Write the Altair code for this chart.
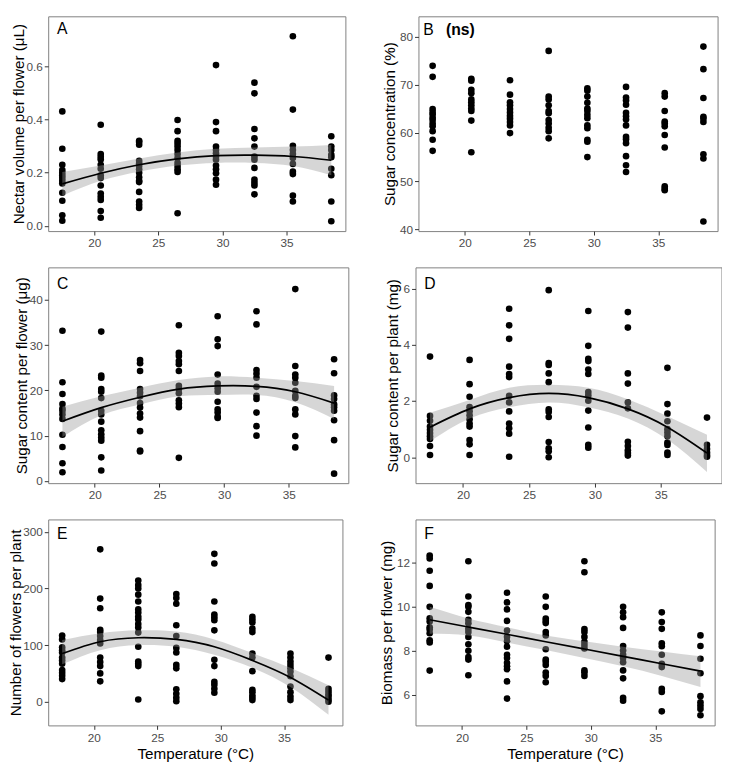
import altair as alt
import pandas as pd

temps = [17.5, 20.5, 23.5, 26.5, 29.5, 32.5, 35.5, 38.5]

# ---- A: nectar volume per flower (uL)
nectar_volume = [
    [0.43, 0.29, 0.23, 0.21, 0.20, 0.19, 0.18, 0.17, 0.16, 0.125, 0.095, 0.04, 0.02],
    [0.38, 0.27, 0.26, 0.25, 0.23, 0.215, 0.19, 0.18, 0.152, 0.122, 0.11, 0.098, 0.056, 0.031],
    [0.32, 0.315, 0.305, 0.245, 0.235, 0.225, 0.213, 0.2, 0.183, 0.17, 0.165, 0.128, 0.092, 0.08, 0.068],
    [0.398, 0.356, 0.32, 0.31, 0.298, 0.285, 0.27, 0.255, 0.237, 0.225, 0.213, 0.203, 0.048],
    [0.604, 0.39, 0.356, 0.298, 0.285, 0.273, 0.261, 0.249, 0.227, 0.213, 0.198, 0.174, 0.155],
    [0.538, 0.498, 0.364, 0.329, 0.298, 0.261, 0.249, 0.218, 0.174, 0.162, 0.152, 0.119],
    [0.712, 0.437, 0.301, 0.285, 0.27, 0.255, 0.233, 0.204, 0.195, 0.114, 0.092],
    [0.337, 0.298, 0.285, 0.267, 0.258, 0.215, 0.191, 0.092, 0.018],
]
nectar_fit = [0.158, 0.198, 0.23, 0.252, 0.264, 0.266, 0.261, 0.247]
nectar_lo = [0.114, 0.17, 0.204, 0.227, 0.237, 0.237, 0.225, 0.191]
nectar_hi = [0.203, 0.227, 0.253, 0.276, 0.29, 0.295, 0.298, 0.304]

# ---- B: sugar concentration (%)
sugar_conc = [
    [74.0, 71.7, 65.0, 64.4, 63.9, 63.2, 62.7, 62.0, 61.4, 60.4, 58.6, 56.3],
    [71.3, 70.9, 69.0, 68.3, 67.0, 66.4, 65.8, 65.1, 64.6, 62.6, 56.0],
    [71.0, 68.0, 66.4, 65.8, 65.0, 64.3, 63.6, 63.0, 62.3, 61.6, 60.0],
    [77.1, 67.6, 67.0, 65.8, 64.6, 64.1, 62.7, 62.0, 61.1, 60.4, 58.9],
    [69.3, 68.8, 67.6, 66.3, 65.1, 64.6, 63.8, 63.1, 61.6, 61.0, 58.6, 58.2, 55.0],
    [69.6, 67.4, 66.8, 65.9, 64.2, 63.5, 62.8, 61.6, 59.2, 58.7, 57.9, 55.2, 53.3, 51.9],
    [68.3, 67.6, 64.6, 62.4, 62.0, 61.4, 59.6, 57.0, 48.9, 48.4, 48.1],
    [78.0, 73.3, 67.3, 63.4, 63.0, 62.3, 55.6, 54.7, 41.6],
]

# ---- C: sugar content per flower (ug)
sugar_flower = [
    [33.2, 21.8, 19.2, 17.0, 16.0, 15.5, 14.7, 13.7, 10.2, 7.5, 3.9, 1.9],
    [33.0, 23.3, 22.8, 20.3, 19.7, 18.3, 15.5, 14.7, 13.1, 11.2, 10.3, 9.6, 8.9, 5.2, 2.3],
    [26.7, 26.0, 24.3, 20.3, 19.5, 18.7, 17.2, 16.2, 14.9, 14.0, 11.0, 6.7, 6.5],
    [34.4, 28.3, 27.6, 26.5, 25.8, 24.3, 21.0, 20.3, 19.4, 17.8, 17.1, 16.3, 5.1],
    [36.4, 31.3, 29.8, 23.5, 21.5, 20.5, 19.7, 17.5, 15.8, 15.1, 14.2, 13.9],
    [37.5, 34.6, 24.5, 23.7, 22.8, 20.8, 18.8, 18.1, 15.1, 12.1, 10.0],
    [42.4, 25.4, 23.5, 22.8, 21.7, 19.9, 18.8, 18.3, 15.8, 14.7, 9.9, 7.4],
    [26.9, 23.8, 18.9, 18.1, 16.9, 16.3, 15.5, 13.4, 9.0, 1.6],
]
sugar_flower_fit = [13.2, 16.2, 18.5, 20.3, 21.0, 20.9, 19.7, 17.2]
sugar_flower_lo = [9.7, 14.5, 16.9, 18.7, 19.0, 19.0, 17.4, 13.7]
sugar_flower_hi = [16.4, 18.7, 20.6, 22.3, 23.1, 22.8, 22.1, 21.0]

# ---- D: sugar content per plant (mg)
sugar_plant = [
    [3.58, 1.47, 1.30, 1.09, 0.98, 0.86, 0.75, 0.65, 0.40, 0.08],
    [3.46, 2.60, 2.15, 1.78, 1.64, 1.49, 1.35, 1.20, 1.09, 0.61, 0.46, 0.08],
    [5.28, 4.69, 4.21, 3.22, 2.96, 2.85, 2.18, 1.95, 1.63, 1.20, 1.03, 0.84, 0.02],
    [5.94, 3.35, 3.28, 2.98, 2.67, 1.70, 1.61, 1.43, 0.54, 0.32, 0.21, 0.0],
    [5.20, 3.96, 3.50, 3.42, 3.12, 2.96, 2.32, 2.20, 2.01, 1.66, 1.06, 0.44, 0.34],
    [5.16, 4.61, 2.98, 2.62, 1.95, 1.74, 0.55, 0.40, 0.25, 0.15, 0.06],
    [3.18, 1.89, 1.55, 1.28, 1.0, 0.88, 0.75, 0.52, 0.44, 0.17, 0.08],
    [1.41, 0.44, 0.29, 0.17, 0.08, 0.02],
]
sugar_plant_fit = [1.07, 1.72, 2.12, 2.27, 2.12, 1.72, 1.07, 0.15]
sugar_plant_lo = [0.57, 1.38, 1.78, 1.95, 1.78, 1.38, 0.63, -0.52]
sugar_plant_hi = [1.58, 2.04, 2.47, 2.58, 2.47, 2.06, 1.46, 0.80]

# ---- E: number of flowers per plant
flowers_plant = [
    [117, 110, 96, 91, 87, 78, 73, 67, 56, 51, 46, 40],
    [269, 182, 165, 127, 123, 116, 109, 103, 78, 70, 63, 50, 36],
    [214, 206, 200, 189, 177, 163, 157, 150, 145, 137, 131, 122, 97, 71, 67, 63, 4],
    [190, 183, 173, 135, 116, 95, 87, 65, 59, 22, 14, 7, 1],
    [261, 244, 177, 154, 149, 144, 126, 74, 63, 35, 30, 23, 16],
    [150, 145, 140, 129, 123, 85, 78, 54, 21, 17, 11, 7, 3],
    [85, 78, 71, 65, 59, 53, 45, 27, 17, 9, 3],
    [78, 23, 18, 13, 9, 4, 0],
]
flowers_fit = [85, 106, 113, 110, 97, 73, 43, 3]
flowers_lo = [66, 91, 100, 97, 83, 60, 26, -23]
flowers_hi = [109, 121, 126, 124, 110, 86, 60, 29]

# ---- F: biomass per flower (mg)
biomass_flower = [
    [12.32, 12.19, 11.63, 10.94, 9.99, 9.47, 9.32, 9.06, 8.96, 8.79, 8.47, 8.37, 7.09],
    [12.06, 10.46, 10.07, 9.99, 9.76, 9.40, 9.24, 8.99, 8.84, 8.62, 8.29, 7.99, 7.71, 7.59, 6.88],
    [10.63, 10.19, 9.87, 9.35, 8.91, 8.62, 8.43, 8.18, 7.81, 7.66, 7.44, 7.29, 7.15, 6.60, 5.82],
    [10.46, 9.99, 9.46, 9.34, 9.25, 8.84, 8.69, 8.06, 7.59, 7.49, 7.34, 7.00, 6.85, 6.56],
    [12.06, 11.56, 8.98, 8.85, 8.62, 8.40, 8.25, 8.10, 7.10, 7.00, 6.85],
    [9.99, 9.74, 9.52, 9.03, 8.21, 8.00, 7.81, 7.66, 7.47, 7.10, 6.74, 5.85, 5.72],
    [9.74, 9.30, 8.99, 8.33, 8.20, 7.81, 7.40, 7.25, 6.26, 6.12, 5.24],
    [8.69, 8.21, 7.63, 6.97, 5.93, 5.65, 5.50, 5.35, 5.06],
]
biomass_fit = [9.40, 9.07, 8.74, 8.40, 8.07, 7.74, 7.40, 7.07]
biomass_lo = [8.76, 8.69, 8.37, 8.03, 7.66, 7.29, 6.85, 6.34]
biomass_hi = [9.99, 9.46, 9.06, 8.69, 8.43, 8.18, 7.96, 7.74]

x_ticks = [20, 25, 30, 35]
x_domain = [16.4, 39.6]
FONT = "Liberation Sans"
LABEL_FS = 12
TITLE_FS = 15.5
LETTER_FS = 16


def panel(values, fit, lo, hi, ytitle, ydomain, yticks, yfmt, label, lab_x, lab_y,
          width, height, extent, xtitle=None, ns=False):
    pts = pd.DataFrame([{"t": t, "v": v} for t, vals in zip(temps, values) for v in vals])
    xaxis = alt.Axis(values=x_ticks, title=xtitle, tickSize=4, labelPadding=3,
                     titlePadding=4, labelFontSize=LABEL_FS, titleFontSize=TITLE_FS)
    yaxis = alt.Axis(values=yticks, format=yfmt, title=ytitle, tickSize=4, labelPadding=2,
                     titlePadding=0, minExtent=extent, maxExtent=extent,
                     labelFontSize=LABEL_FS, titleFontSize=TITLE_FS)
    xs = alt.Scale(domain=x_domain, nice=False, zero=False)
    ys = alt.Scale(domain=ydomain, nice=False, zero=False)
    layers = [
        alt.Chart(pts).mark_circle(size=46, color="black", opacity=1).encode(
            x=alt.X("t:Q", scale=xs, axis=xaxis),
            y=alt.Y("v:Q", scale=ys, axis=yaxis),
        )
    ]
    if fit is not None:
        fd = pd.DataFrame({"t": temps, "fit": fit, "lo": lo, "hi": hi})
        layers.append(
            alt.Chart(fd).mark_area(color="#999999", opacity=0.4, interpolate="natural").encode(
                x=alt.X("t:Q", scale=xs, axis=xaxis),
                y=alt.Y("lo:Q", scale=ys, axis=yaxis),
                y2="hi:Q",
            )
        )
        layers.append(
            alt.Chart(fd).mark_line(color="black", strokeWidth=1.7, interpolate="natural").encode(
                x=alt.X("t:Q", scale=xs, axis=xaxis),
                y=alt.Y("fit:Q", scale=ys, axis=yaxis),
            )
        )
    layers.append(
        alt.Chart(pd.DataFrame({"lab": [label]})).mark_text(
            align="left", baseline="alphabetic", fontSize=LETTER_FS, font=FONT, color="black"
        ).encode(x=alt.value(lab_x), y=alt.value(lab_y), text="lab:N")
    )
    if ns:
        layers.append(
            alt.Chart(pd.DataFrame({"lab2": ["(ns)"]})).mark_text(
                align="left", baseline="alphabetic", fontSize=LETTER_FS, font=FONT,
                fontWeight="bold", color="black"
            ).encode(x=alt.value(28), y=alt.value(lab_y), text="lab2:N")
        )
    return alt.layer(*layers).properties(width=width, height=height)


pA = panel(nectar_volume, nectar_fit, nectar_lo, nectar_hi, "Nectar volume per flower (μL)",
           [-0.019, 0.787], [0, 0.2, 0.4, 0.6], ".1f", "A", 9, 18, 303, 219, 22.5)
pB = panel(sugar_conc, None, None, None, "Sugar concentration (%)",
           [39.6, 84.3], [40, 50, 60, 70, 80], "d", "B", 5, 19, 305, 219, 21, ns=True)
pC = panel(sugar_flower, sugar_flower_fit, sugar_flower_lo, sugar_flower_hi,
           "Sugar content per flower (μg)", [-0.5, 47.2], [0, 10, 20, 30, 40], "d",
           "C", 9, 22, 306, 220, 19.5)
pD = panel(sugar_plant, sugar_plant_fit, sugar_plant_lo, sugar_plant_hi,
           "Sugar content per plant (mg)", [-0.92, 6.75], [0, 2, 4, 6], "d",
           "D", 9, 22, 312, 220, 15)
pE = panel(flowers_plant, flowers_fit, flowers_lo, flowers_hi,
           "Number of flowers per plant", [-41.7, 321.7], [0, 100, 200, 300], "d",
           "E", 9, 20, 300, 210, 25.5, xtitle="Temperature (°C)")
pF = panel(biomass_flower, biomass_fit, biomass_lo, biomass_hi,
           "Biomass per flower (mg)", [4.6, 13.96], [6, 8, 10, 12], "d",
           "F", 9, 20, 305, 210, 21, xtitle="Temperature (°C)")

row1 = alt.hconcat(pA, pB, spacing=36.5)
row2 = alt.hconcat(pC, pD, spacing=36.5)
row3 = alt.hconcat(pE, pF, spacing=36.5)

chart = alt.vconcat(row1, row2, row3, spacing=17).properties(
    padding={"left": 0, "top": 0, "right": 0, "bottom": 0}
).configure(font=FONT).configure_view(
    stroke="#7f7f7f", strokeWidth=1
).configure_axis(
    domain=False, grid=False, tickColor="#333333", labelColor="#4d4d4d",
    titleColor="black", titleFontWeight="normal", labelFont=FONT, titleFont=FONT
)

chart.save("out.html", embed_options={"renderer": "svg", "actions": False})
